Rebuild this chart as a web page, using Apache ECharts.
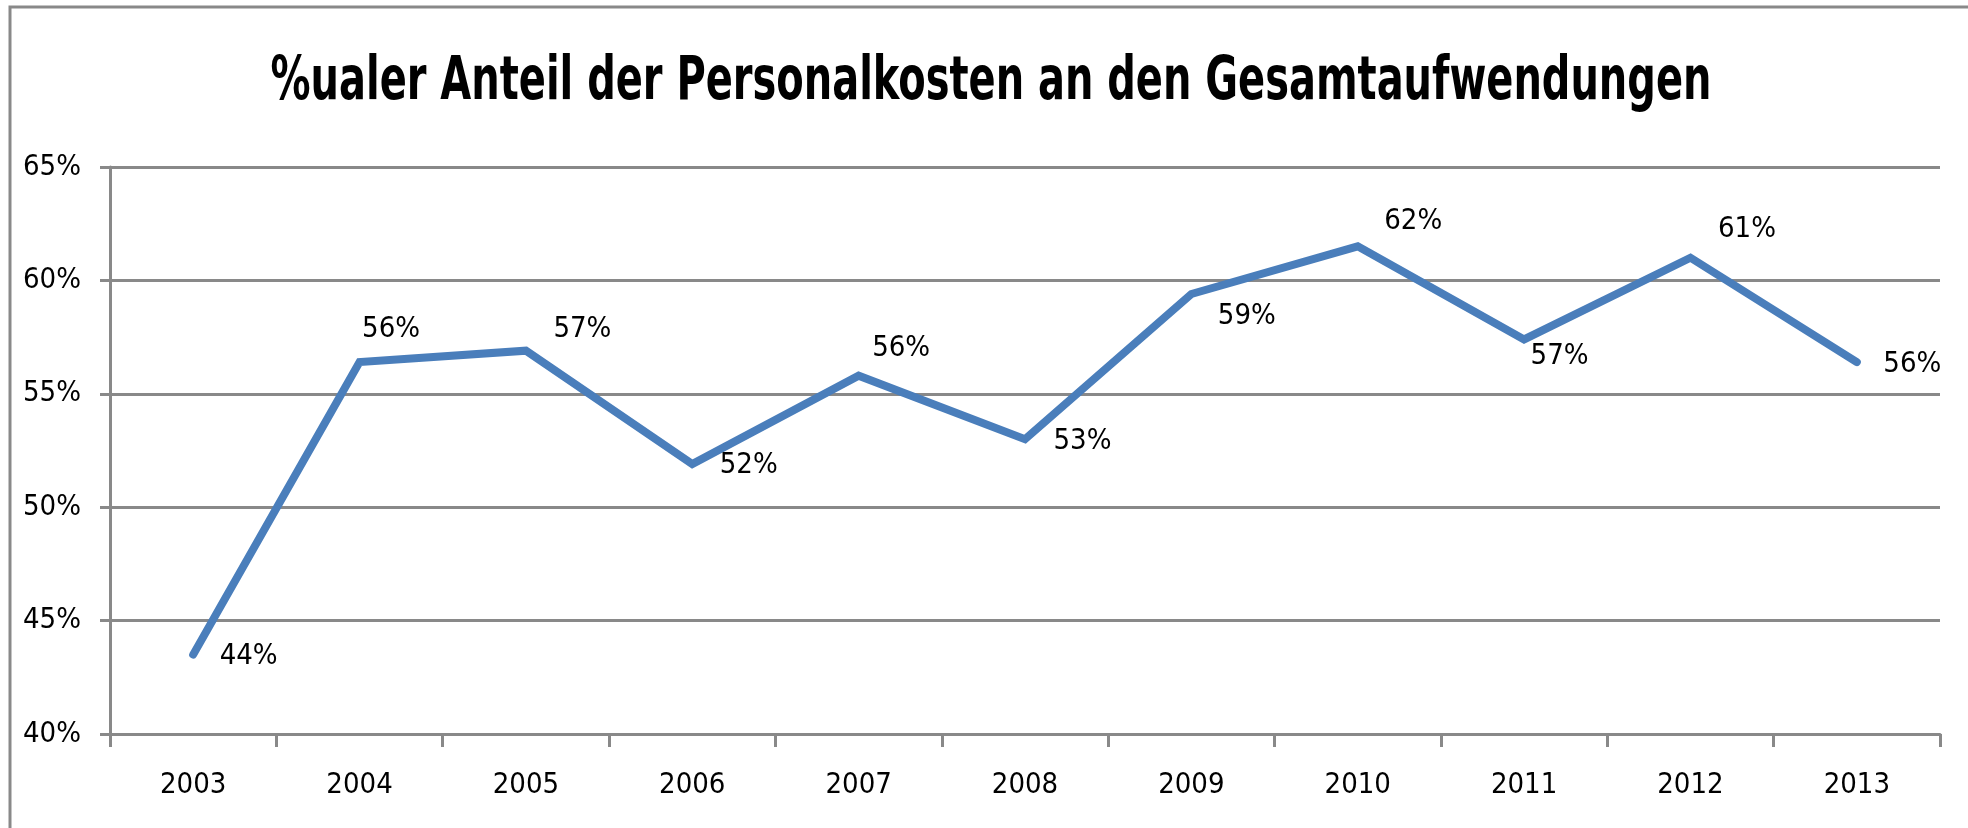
<!DOCTYPE html>
<html>
<head>
<meta charset="utf-8">
<script src="https://cdn.jsdelivr.net/npm/echarts@6/dist/echarts.min.js"></script>
<style>
  html, body { margin: 0; padding: 0; background: #fff; }
  #chart { width: 1968px; height: 828px; }
</style>
</head>
<body>
<div id="chart"></div>
<script>
// Jahre und Anteil der Personalkosten in %
const years = ['2003', '2004', '2005', '2006', '2007', '2008', '2009', '2010', '2011', '2012', '2013'];
const anteil = [43.5, 56.4, 56.9, 51.9, 55.8, 53.0, 59.4, 61.5, 57.4, 61.0, 56.4];
const yTicks = [40, 45, 50, 55, 60, 65];
const titel = '%ualer Anteil der Personalkosten an den Gesamtaufwendungen';

// label nudges (px) so the labels sit like in the original
const labelNudge = [[0, 2], [-24, -33], [1, -21], [1, 1], [-13, -27], [2, 2], [0, 22], [0, -25], [-20, 17], [1, -28], [0, 2]];

const FONT = "'Liberation Sans Narrow', 'DejaVu Sans Condensed', sans-serif";
const GREY = '#898989';

const chart = echarts.init(document.getElementById('chart'));

chart.setOption({
  animation: false,
  graphic: [{
    type: 'rect',
    shape: {x: 10, y: 7, width: 2100, height: 1000},
    style: {fill: 'none', stroke: GREY, lineWidth: 3}
  }, {
    // title squeezed a bit, the original font is a narrow one
    type: 'text',
    x: 991,
    y: 83,
    scaleX: 0.74,
    style: {
      text: titel,
      x: 0,
      y: 0,
      align: 'center',
      verticalAlign: 'middle',
      font: "bold 60px " + FONT,
      fill: '#000'
    }
  }],
  grid: {
    left: 110,
    right: 28,
    top: 167,
    bottom: 94
  },
  xAxis: {
    type: 'category',
    data: years,
    boundaryGap: true,
    axisLine: {lineStyle: {color: GREY, width: 3}},
    axisTick: {show: true, interval: 0, length: 13, lineStyle: {color: GREY, width: 3}},
    axisLabel: {fontFamily: FONT, fontSize: 29, color: '#000', margin: 37, interval: 0}
  },
  yAxis: {
    type: 'value',
    min: yTicks[0],
    max: yTicks[yTicks.length - 1],
    interval: 5,
    axisLine: {show: true, lineStyle: {color: GREY, width: 3}},
    axisTick: {show: true, length: 10, lineStyle: {color: GREY, width: 3}},
    splitLine: {lineStyle: {color: GREY, width: 3}},
    axisLabel: {
      fontFamily: FONT, fontSize: 29, color: '#000', margin: 29,
      formatter: v => v + '%'
    }
  },
  series: [{
    type: 'line',
    data: anteil.map((v, i) => ({
      value: v,
      label: {offset: labelNudge[i]}
    })),
    symbol: 'circle',
    symbolSize: 1,
    showSymbol: true,
    itemStyle: {color: '#4a7ebb'},
    lineStyle: {color: '#4a7ebb', width: 8, cap: 'round', join: 'miter'},
    label: {
      show: true,
      position: 'right',
      distance: 26,
      fontFamily: FONT,
      fontSize: 29,
      color: '#000',
      formatter: p => Math.round(p.value) + '%'
    }
  }]
});
</script>
</body>
</html>
